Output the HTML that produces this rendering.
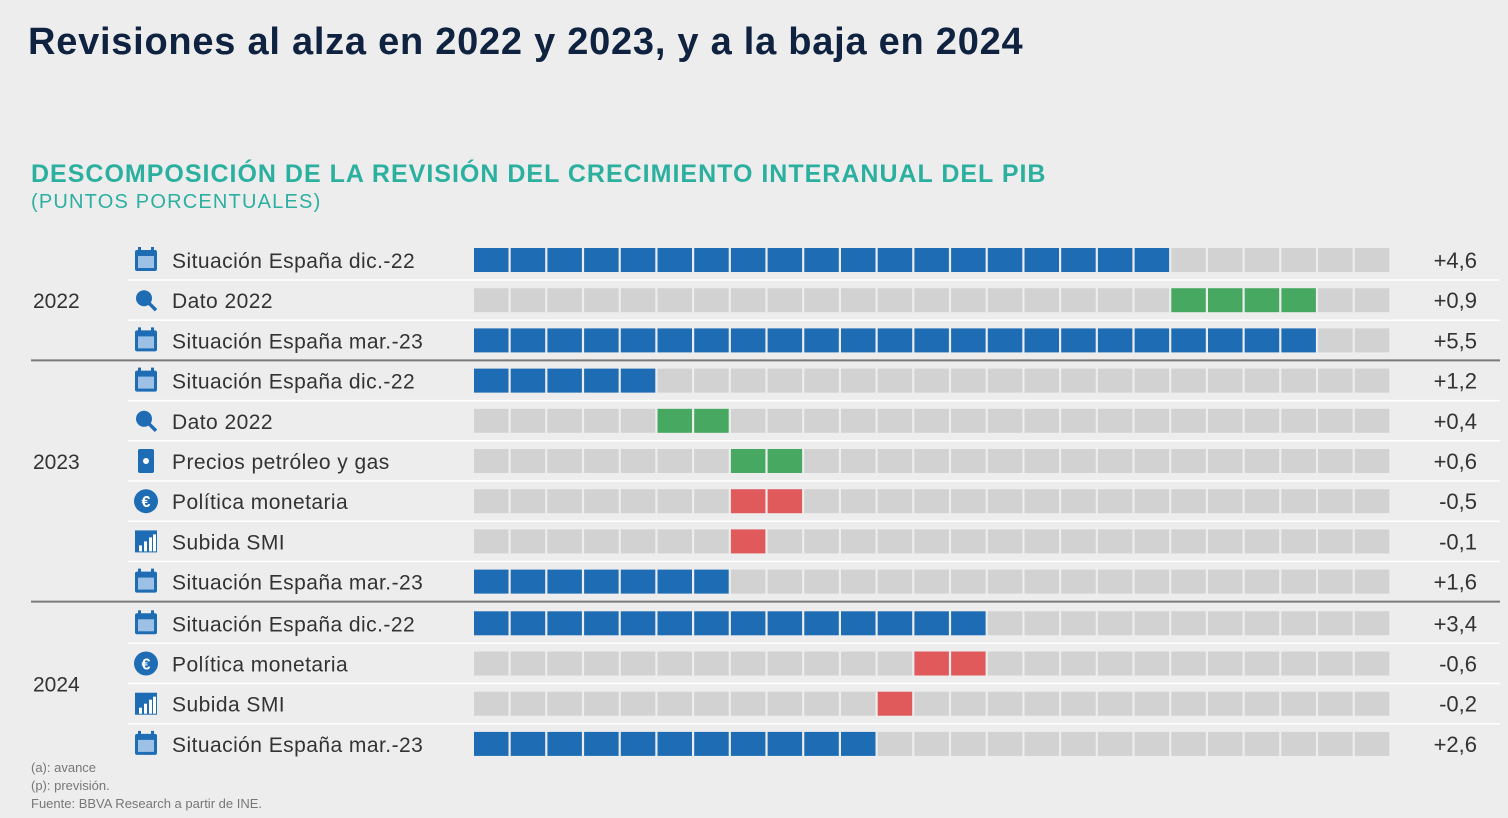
<!DOCTYPE html>
<html><head><meta charset="utf-8"><style>
body{margin:0;width:1508px;height:818px;background:#ededed;font-family:"Liberation Sans",sans-serif;overflow:hidden;position:relative}
.abs{position:absolute;white-space:nowrap}
</style></head><body>
<div class="abs" style="left:28px;top:21px;font-size:38px;font-weight:bold;color:#0f2240;letter-spacing:0.75px">Revisiones al alza en 2022 y 2023, y a la baja en 2024</div>
<div class="abs" style="left:31px;top:160px;font-size:25px;font-weight:bold;color:#2bb0a0;letter-spacing:1px">DESCOMPOSICIÓN DE LA REVISIÓN DEL CRECIMIENTO INTERANUAL DEL PIB</div>
<div class="abs" style="left:31px;top:191px;font-size:20px;color:#2bb0a0;letter-spacing:1.2px">(PUNTOS PORCENTUALES)</div>
<div class="abs" style="left:31px;top:759px;font-size:13px;line-height:18px;color:#777">(a): avance<br>(p): previsión.<br>Fuente: BBVA Research a partir de INE.</div>
<svg id="chart" width="1508" height="818" style="position:absolute;left:0;top:0"></svg>
<script>
const labels=["Situación España dic.-22","Dato 2022","Situación España mar.-23","Situación España dic.-22","Dato 2022","Precios petróleo y gas","Política monetaria","Subida SMI","Situación España mar.-23","Situación España dic.-22","Política monetaria","Subida SMI","Situación España mar.-23"];
const values=[4.6,0.9,5.5,1.2,0.4,0.6,-0.5,-0.1,1.6,3.4,-0.6,-0.2,2.6];
const fromValues=[0,4.6,0,0,1.2,1.6,1.7,1.7,0,0,2.9,2.65,0];
const kinds=["total","up","total","total","up","up","down","down","total","total","down","down","total"];
const icons=["cal","search","cal","cal","search","oil","euro","bars","cal","cal","euro","bars","cal"];
const valueLabels=["+4,6","+0,9","+5,5","+1,2","+0,4","+0,6","-0,5","-0,1","+1,6","+3,4","-0,6","-0,2","+2,6"];
const years=["2022","2023","2024"];
const yearRows=[[0,2],[3,7],[9,12]];
const unitPerCell=0.24, nCells=25;
const svg=document.getElementById('chart');
const NS="http://www.w3.org/2000/svg";
const x0=474,pitch=36.7,cw=34.5,ch=24;
function yPos(i){return 260+i*40.2+(i>=9?1.5:0);}
function cellIdx(v){return Math.round(v/unitPerCell);}
function nCell(v){return Math.max(1,Math.floor(Math.abs(v)/unitPerCell+0.45));}
function mk(t,a,p){const e=document.createElementNS(NS,t);for(const k in a)e.setAttribute(k,a[k]);(p||svg).appendChild(e);return e;}
const colors={total:"#1e6db4",up:"#47a862",down:"#e0595b"};
labels.forEach((lab,i)=>{
  const y=yPos(i);
  if(i<labels.length-1){
    const sep=(i===2||i===8);
    const l=mk('line',{x1:sep?31:128,x2:1500,y1:y+20,y2:y+20,stroke:sep?'#7a7a7a':'#ffffff','stroke-width':sep?2:1.5});
    
    
  }
  const g=mk('g',{});
  
  
  const s=cellIdx(fromValues[i]),n=nCell(values[i]);
  for(let c=0;c<nCells;c++){
    const on=c>=s&&c<s+n;
    const r=mk('rect',{x:x0+c*pitch,y:y-12,width:cw,height:ch,fill:on?colors[kinds[i]]:'#d2d2d2'},g);
    
    
  }
  const t=mk('text',{x:172,y:y+8,'font-size':21,fill:'#333','letter-spacing':0.45,'font-family':'Liberation Sans'},g);t.textContent=lab;
  
  
  const v=mk('text',{x:1477,y:y+8,'font-size':22,fill:'#333','text-anchor':'end','font-family':'Liberation Sans'},g);v.textContent=valueLabels[i];
  
  
  const ic=mk('g',{transform:`translate(146,${y})`},g);
  
  
  const B="#1e6db4";
  if(icons[i]==='cal'){mk('rect',{x:-11,y:-10,width:22,height:21,rx:2,fill:B},ic);mk('rect',{x:-8,y:-4,width:16,height:12,fill:'#9cc0e6'},ic);mk('rect',{x:-8,y:-13,width:3,height:5,fill:B},ic);mk('rect',{x:5,y:-13,width:3,height:5,fill:B},ic);}
  else if(icons[i]==='search'){mk('circle',{cx:-2,cy:-2,r:8,fill:B},ic);mk('line',{x1:3,y1:3,x2:10,y2:10,stroke:B,'stroke-width':3.5},ic);}
  else if(icons[i]==='oil'){mk('rect',{x:-8,y:-12,width:16,height:24,rx:2,fill:B},ic);mk('circle',{cx:0,cy:0,r:3,fill:'#fff'},ic);}
  else if(icons[i]==='euro'){mk('circle',{cx:0,cy:0,r:12,fill:B},ic);const e=mk('text',{x:0,y:6,'font-size':16,'font-weight':'bold',fill:'#fff','text-anchor':'middle'},ic);e.textContent='€';}
  else {mk('rect',{x:-11,y:-11,width:22,height:22,fill:B},ic);[[-7,4],[-2,0],[3,-4],[7,-7]].forEach(([bx,by])=>mk('rect',{x:bx,y:by,width:3,height:10-by,fill:'#fff'},ic));}
});
years.forEach((yr,k)=>{
  const [a,b]=yearRows[k];
  const t=mk('text',{x:33,y:(yPos(a)+yPos(b))/2+8,'font-size':21,fill:'#333','font-family':'Liberation Sans'});t.textContent=yr;
  
  
});
</script>
</body></html>
